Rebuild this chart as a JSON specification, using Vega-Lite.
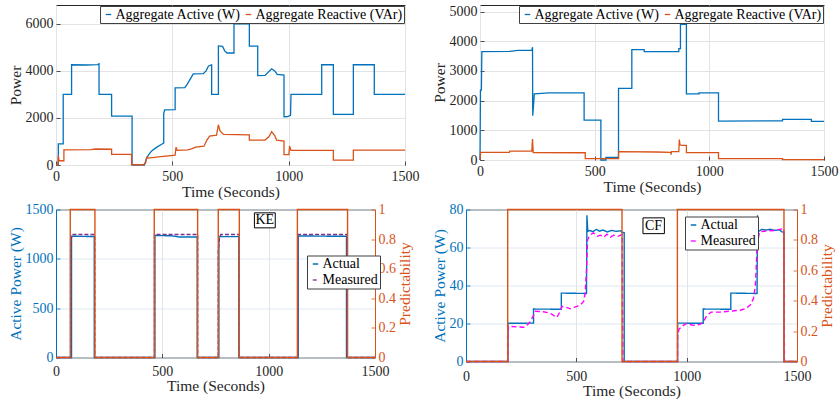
{
  "$schema": "https://vega.github.io/schema/vega-lite/v6.json",
  "background": "white",
  "padding": {"left": 7, "top": 4, "right": 0, "bottom": 0},
  "config": {
    "font": "Liberation Serif",
    "view": {"stroke": "#262626", "strokeWidth": 1},
    "style": {"guide-title": {"fontWeight": 400}},
    "axis": {
      "labelFont": "Liberation Serif", "labelFontSize": 14, "labelColor": "#262626",
      "titleFont": "Liberation Serif", "titleFontSize": 15.5, "titleFontWeight": 400, "titleColor": "#262626",
      "domain": false, "grid": true, "gridColor": "#E3E3E3", "gridWidth": 1,
      "tickColor": "#262626", "tickSize": -4, "tickWidth": 0.8,
      "labelFlush": false, "labelOverlap": false, "labelBound": false
    },
    "axisX": {"labelPadding": 8, "titlePadding": 1.5, "titleFontWeight": 400},
    "axisY": {"labelPadding": 7, "titlePadding": 2, "titleFontWeight": 400},
    "legend": {
      "labelFont": "Liberation Serif", "labelFontSize": 14, "labelColor": "black",
      "symbolType": "stroke", "symbolSize": 30, "symbolStrokeWidth": 1.3,
      "strokeColor": "#404040", "fillColor": "white", "padding": 1.5,
      "labelOffset": 0, "columnPadding": 0, "rowPadding": 2
    }
  },
  "datasets": {
    "p1": [
      {"t": 0, "v": 0, "s": "Aggregate Active (W)"}, {"t": 10, "v": 0, "s": "Aggregate Active (W)"}, {"t": 10, "v": 900, "s": "Aggregate Active (W)"}, {"t": 31, "v": 900, "s": "Aggregate Active (W)"}, {"t": 31, "v": 3000, "s": "Aggregate Active (W)"}, {"t": 67, "v": 3000, "s": "Aggregate Active (W)"}, {"t": 67, "v": 4260, "s": "Aggregate Active (W)"}, {"t": 130, "v": 4250, "s": "Aggregate Active (W)"}, {"t": 178, "v": 4270, "s": "Aggregate Active (W)"}, {"t": 185, "v": 4300, "s": "Aggregate Active (W)"}, {"t": 185, "v": 3000, "s": "Aggregate Active (W)"}, {"t": 239, "v": 3000, "s": "Aggregate Active (W)"}, {"t": 239, "v": 2080, "s": "Aggregate Active (W)"}, {"t": 327, "v": 2080, "s": "Aggregate Active (W)"}, {"t": 327, "v": 0, "s": "Aggregate Active (W)"}, {"t": 380, "v": 0, "s": "Aggregate Active (W)"}, {"t": 388, "v": 250, "s": "Aggregate Active (W)"}, {"t": 397, "v": 420, "s": "Aggregate Active (W)"}, {"t": 411, "v": 600, "s": "Aggregate Active (W)"}, {"t": 432, "v": 750, "s": "Aggregate Active (W)"}, {"t": 454, "v": 880, "s": "Aggregate Active (W)"}, {"t": 463, "v": 930, "s": "Aggregate Active (W)"}, {"t": 463, "v": 2200, "s": "Aggregate Active (W)"}, {"t": 467, "v": 2340, "s": "Aggregate Active (W)"}, {"t": 512, "v": 2350, "s": "Aggregate Active (W)"}, {"t": 512, "v": 3280, "s": "Aggregate Active (W)"}, {"t": 554, "v": 3290, "s": "Aggregate Active (W)"}, {"t": 565, "v": 3450, "s": "Aggregate Active (W)"}, {"t": 580, "v": 3700, "s": "Aggregate Active (W)"}, {"t": 590, "v": 3870, "s": "Aggregate Active (W)"}, {"t": 633, "v": 3880, "s": "Aggregate Active (W)"}, {"t": 645, "v": 4000, "s": "Aggregate Active (W)"}, {"t": 655, "v": 4200, "s": "Aggregate Active (W)"}, {"t": 667, "v": 4250, "s": "Aggregate Active (W)"}, {"t": 669, "v": 4250, "s": "Aggregate Active (W)"}, {"t": 669, "v": 3000, "s": "Aggregate Active (W)"}, {"t": 698, "v": 3000, "s": "Aggregate Active (W)"}, {"t": 698, "v": 5060, "s": "Aggregate Active (W)"}, {"t": 716, "v": 5040, "s": "Aggregate Active (W)"}, {"t": 725, "v": 4850, "s": "Aggregate Active (W)"}, {"t": 735, "v": 4760, "s": "Aggregate Active (W)"}, {"t": 765, "v": 4760, "s": "Aggregate Active (W)"}, {"t": 765, "v": 6000, "s": "Aggregate Active (W)"}, {"t": 831, "v": 6000, "s": "Aggregate Active (W)"}, {"t": 831, "v": 5050, "s": "Aggregate Active (W)"}, {"t": 867, "v": 5050, "s": "Aggregate Active (W)"}, {"t": 867, "v": 3800, "s": "Aggregate Active (W)"}, {"t": 898, "v": 3810, "s": "Aggregate Active (W)"}, {"t": 910, "v": 3920, "s": "Aggregate Active (W)"}, {"t": 927, "v": 4090, "s": "Aggregate Active (W)"}, {"t": 940, "v": 4000, "s": "Aggregate Active (W)"}, {"t": 951, "v": 3850, "s": "Aggregate Active (W)"}, {"t": 980, "v": 3820, "s": "Aggregate Active (W)"}, {"t": 980, "v": 2050, "s": "Aggregate Active (W)"}, {"t": 995, "v": 2060, "s": "Aggregate Active (W)"}, {"t": 1008, "v": 2110, "s": "Aggregate Active (W)"}, {"t": 1010, "v": 3000, "s": "Aggregate Active (W)"}, {"t": 1142, "v": 3000, "s": "Aggregate Active (W)"}, {"t": 1142, "v": 4260, "s": "Aggregate Active (W)"}, {"t": 1192, "v": 4260, "s": "Aggregate Active (W)"}, {"t": 1192, "v": 2150, "s": "Aggregate Active (W)"}, {"t": 1278, "v": 2150, "s": "Aggregate Active (W)"}, {"t": 1278, "v": 4260, "s": "Aggregate Active (W)"}, {"t": 1368, "v": 4260, "s": "Aggregate Active (W)"}, {"t": 1368, "v": 3000, "s": "Aggregate Active (W)"}, {"t": 1500, "v": 3000, "s": "Aggregate Active (W)"},
      {"t": 0, "v": 0, "s": "Aggregate Reactive (VAr)"}, {"t": 8, "v": 0, "s": "Aggregate Reactive (VAr)"}, {"t": 10, "v": 400, "s": "Aggregate Reactive (VAr)"}, {"t": 13, "v": 180, "s": "Aggregate Reactive (VAr)"}, {"t": 34, "v": 180, "s": "Aggregate Reactive (VAr)"}, {"t": 34, "v": 640, "s": "Aggregate Reactive (VAr)"}, {"t": 150, "v": 650, "s": "Aggregate Reactive (VAr)"}, {"t": 170, "v": 680, "s": "Aggregate Reactive (VAr)"}, {"t": 239, "v": 670, "s": "Aggregate Reactive (VAr)"}, {"t": 239, "v": 450, "s": "Aggregate Reactive (VAr)"}, {"t": 325, "v": 450, "s": "Aggregate Reactive (VAr)"}, {"t": 325, "v": 10, "s": "Aggregate Reactive (VAr)"}, {"t": 375, "v": 10, "s": "Aggregate Reactive (VAr)"}, {"t": 385, "v": 80, "s": "Aggregate Reactive (VAr)"}, {"t": 390, "v": 330, "s": "Aggregate Reactive (VAr)"}, {"t": 397, "v": 290, "s": "Aggregate Reactive (VAr)"}, {"t": 450, "v": 360, "s": "Aggregate Reactive (VAr)"}, {"t": 512, "v": 420, "s": "Aggregate Reactive (VAr)"}, {"t": 516, "v": 760, "s": "Aggregate Reactive (VAr)"}, {"t": 521, "v": 620, "s": "Aggregate Reactive (VAr)"}, {"t": 567, "v": 640, "s": "Aggregate Reactive (VAr)"}, {"t": 585, "v": 700, "s": "Aggregate Reactive (VAr)"}, {"t": 600, "v": 760, "s": "Aggregate Reactive (VAr)"}, {"t": 636, "v": 800, "s": "Aggregate Reactive (VAr)"}, {"t": 648, "v": 1050, "s": "Aggregate Reactive (VAr)"}, {"t": 660, "v": 1230, "s": "Aggregate Reactive (VAr)"}, {"t": 690, "v": 1270, "s": "Aggregate Reactive (VAr)"}, {"t": 698, "v": 1710, "s": "Aggregate Reactive (VAr)"}, {"t": 705, "v": 1450, "s": "Aggregate Reactive (VAr)"}, {"t": 720, "v": 1300, "s": "Aggregate Reactive (VAr)"}, {"t": 831, "v": 1280, "s": "Aggregate Reactive (VAr)"}, {"t": 831, "v": 1060, "s": "Aggregate Reactive (VAr)"}, {"t": 898, "v": 1060, "s": "Aggregate Reactive (VAr)"}, {"t": 915, "v": 1200, "s": "Aggregate Reactive (VAr)"}, {"t": 927, "v": 1420, "s": "Aggregate Reactive (VAr)"}, {"t": 940, "v": 1250, "s": "Aggregate Reactive (VAr)"}, {"t": 948, "v": 1060, "s": "Aggregate Reactive (VAr)"}, {"t": 980, "v": 1020, "s": "Aggregate Reactive (VAr)"}, {"t": 980, "v": 440, "s": "Aggregate Reactive (VAr)"}, {"t": 1001, "v": 440, "s": "Aggregate Reactive (VAr)"}, {"t": 1004, "v": 800, "s": "Aggregate Reactive (VAr)"}, {"t": 1010, "v": 620, "s": "Aggregate Reactive (VAr)"}, {"t": 1192, "v": 620, "s": "Aggregate Reactive (VAr)"}, {"t": 1192, "v": 210, "s": "Aggregate Reactive (VAr)"}, {"t": 1278, "v": 210, "s": "Aggregate Reactive (VAr)"}, {"t": 1278, "v": 630, "s": "Aggregate Reactive (VAr)"}, {"t": 1500, "v": 630, "s": "Aggregate Reactive (VAr)"}
    ],
    "p2": [
      {"t": 0, "v": 0, "s": "Aggregate Active (W)"}, {"t": 2, "v": 2350, "s": "Aggregate Active (W)"}, {"t": 6, "v": 2350, "s": "Aggregate Active (W)"}, {"t": 8, "v": 3650, "s": "Aggregate Active (W)"}, {"t": 130, "v": 3660, "s": "Aggregate Active (W)"}, {"t": 165, "v": 3690, "s": "Aggregate Active (W)"}, {"t": 226, "v": 3700, "s": "Aggregate Active (W)"}, {"t": 229, "v": 3800, "s": "Aggregate Active (W)"}, {"t": 230, "v": 1490, "s": "Aggregate Active (W)"}, {"t": 237, "v": 2230, "s": "Aggregate Active (W)"}, {"t": 300, "v": 2260, "s": "Aggregate Active (W)"}, {"t": 454, "v": 2260, "s": "Aggregate Active (W)"}, {"t": 454, "v": 1340, "s": "Aggregate Active (W)"}, {"t": 527, "v": 1340, "s": "Aggregate Active (W)"}, {"t": 527, "v": 0, "s": "Aggregate Active (W)"}, {"t": 549, "v": 0, "s": "Aggregate Active (W)"}, {"t": 549, "v": 90, "s": "Aggregate Active (W)"}, {"t": 604, "v": 90, "s": "Aggregate Active (W)"}, {"t": 604, "v": 2410, "s": "Aggregate Active (W)"}, {"t": 662, "v": 2410, "s": "Aggregate Active (W)"}, {"t": 662, "v": 3720, "s": "Aggregate Active (W)"}, {"t": 716, "v": 3720, "s": "Aggregate Active (W)"}, {"t": 716, "v": 3650, "s": "Aggregate Active (W)"}, {"t": 867, "v": 3650, "s": "Aggregate Active (W)"}, {"t": 867, "v": 3750, "s": "Aggregate Active (W)"}, {"t": 874, "v": 3750, "s": "Aggregate Active (W)"}, {"t": 874, "v": 4570, "s": "Aggregate Active (W)"}, {"t": 900, "v": 4570, "s": "Aggregate Active (W)"}, {"t": 900, "v": 2230, "s": "Aggregate Active (W)"}, {"t": 955, "v": 2230, "s": "Aggregate Active (W)"}, {"t": 955, "v": 2260, "s": "Aggregate Active (W)"}, {"t": 1040, "v": 2260, "s": "Aggregate Active (W)"}, {"t": 1040, "v": 1310, "s": "Aggregate Active (W)"}, {"t": 1319, "v": 1320, "s": "Aggregate Active (W)"}, {"t": 1319, "v": 1370, "s": "Aggregate Active (W)"}, {"t": 1445, "v": 1370, "s": "Aggregate Active (W)"}, {"t": 1445, "v": 1300, "s": "Aggregate Active (W)"}, {"t": 1500, "v": 1300, "s": "Aggregate Active (W)"},
      {"t": 0, "v": 0, "s": "Aggregate Reactive (VAr)"}, {"t": 3, "v": 260, "s": "Aggregate Reactive (VAr)"}, {"t": 128, "v": 260, "s": "Aggregate Reactive (VAr)"}, {"t": 130, "v": 300, "s": "Aggregate Reactive (VAr)"}, {"t": 226, "v": 300, "s": "Aggregate Reactive (VAr)"}, {"t": 229, "v": 706, "s": "Aggregate Reactive (VAr)"}, {"t": 232, "v": 250, "s": "Aggregate Reactive (VAr)"}, {"t": 459, "v": 245, "s": "Aggregate Reactive (VAr)"}, {"t": 459, "v": 45, "s": "Aggregate Reactive (VAr)"}, {"t": 604, "v": 45, "s": "Aggregate Reactive (VAr)"}, {"t": 604, "v": 280, "s": "Aggregate Reactive (VAr)"}, {"t": 767, "v": 270, "s": "Aggregate Reactive (VAr)"}, {"t": 832, "v": 255, "s": "Aggregate Reactive (VAr)"}, {"t": 833, "v": 180, "s": "Aggregate Reactive (VAr)"}, {"t": 835, "v": 280, "s": "Aggregate Reactive (VAr)"}, {"t": 867, "v": 280, "s": "Aggregate Reactive (VAr)"}, {"t": 869, "v": 690, "s": "Aggregate Reactive (VAr)"}, {"t": 872, "v": 510, "s": "Aggregate Reactive (VAr)"}, {"t": 880, "v": 490, "s": "Aggregate Reactive (VAr)"}, {"t": 900, "v": 490, "s": "Aggregate Reactive (VAr)"}, {"t": 900, "v": 246, "s": "Aggregate Reactive (VAr)"}, {"t": 1040, "v": 246, "s": "Aggregate Reactive (VAr)"}, {"t": 1040, "v": 45, "s": "Aggregate Reactive (VAr)"}, {"t": 1319, "v": 45, "s": "Aggregate Reactive (VAr)"}, {"t": 1319, "v": 12, "s": "Aggregate Reactive (VAr)"}, {"t": 1500, "v": 12, "s": "Aggregate Reactive (VAr)"}
    ],
    "p3": [
      {"t": 0, "v": 0, "s": "Actual"}, {"t": 73, "v": 0, "s": "Actual"}, {"t": 73, "v": 1229, "s": "Actual"}, {"t": 180, "v": 1226, "s": "Actual"}, {"t": 180, "v": 0, "s": "Actual"}, {"t": 465, "v": 0, "s": "Actual"}, {"t": 465, "v": 1236, "s": "Actual"}, {"t": 540, "v": 1234, "s": "Actual"}, {"t": 580, "v": 1222, "s": "Actual"}, {"t": 664, "v": 1222, "s": "Actual"}, {"t": 664, "v": 0, "s": "Actual"}, {"t": 766, "v": 0, "s": "Actual"}, {"t": 766, "v": 1225, "s": "Actual"}, {"t": 860, "v": 1225, "s": "Actual"}, {"t": 860, "v": 0, "s": "Actual"}, {"t": 1139, "v": 0, "s": "Actual"}, {"t": 1139, "v": 1232, "s": "Actual"}, {"t": 1366, "v": 1228, "s": "Actual"}, {"t": 1366, "v": 0, "s": "Actual"}, {"t": 1500, "v": 0, "s": "Actual"},
      {"t": 0, "v": 0, "s": "Measured"}, {"t": 69, "v": 0, "s": "Measured"}, {"t": 69, "v": 1090, "s": "Measured"}, {"t": 72, "v": 1210, "s": "Measured"}, {"t": 76, "v": 1246, "s": "Measured"}, {"t": 182, "v": 1246, "s": "Measured"}, {"t": 182, "v": 0, "s": "Measured"}, {"t": 463, "v": 0, "s": "Measured"}, {"t": 463, "v": 1246, "s": "Measured"}, {"t": 666, "v": 1246, "s": "Measured"}, {"t": 666, "v": 0, "s": "Measured"}, {"t": 763, "v": 0, "s": "Measured"}, {"t": 763, "v": 1080, "s": "Measured"}, {"t": 768, "v": 1200, "s": "Measured"}, {"t": 775, "v": 1246, "s": "Measured"}, {"t": 862, "v": 1246, "s": "Measured"}, {"t": 862, "v": 0, "s": "Measured"}, {"t": 1137, "v": 0, "s": "Measured"}, {"t": 1137, "v": 1246, "s": "Measured"}, {"t": 1369, "v": 1246, "s": "Measured"}, {"t": 1369, "v": 0, "s": "Measured"}, {"t": 1500, "v": 0, "s": "Measured"}
    ],
    "p3pred": [
      {"t": 0, "p": 0}, {"t": 67, "p": 0}, {"t": 67, "p": 1}, {"t": 183, "p": 1}, {"t": 183, "p": 0}, {"t": 462, "p": 0}, {"t": 462, "p": 1}, {"t": 666, "p": 1}, {"t": 666, "p": 0}, {"t": 763, "p": 0}, {"t": 763, "p": 1}, {"t": 862, "p": 1}, {"t": 862, "p": 0}, {"t": 1135, "p": 0}, {"t": 1135, "p": 1}, {"t": 1371, "p": 1}, {"t": 1371, "p": 0}, {"t": 1500, "p": 0}
    ],
    "p4": [
      {"t": 0, "v": 0, "s": "Actual"}, {"t": 190, "v": 0, "s": "Actual"}, {"t": 190, "v": 20.1, "s": "Actual"}, {"t": 306, "v": 20.2, "s": "Actual"}, {"t": 306, "v": 27.6, "s": "Actual"}, {"t": 432, "v": 27.5, "s": "Actual"}, {"t": 432, "v": 36, "s": "Actual"}, {"t": 546, "v": 35.8, "s": "Actual"}, {"t": 548, "v": 77, "s": "Actual"}, {"t": 552, "v": 68.5, "s": "Actual"}, {"t": 560, "v": 69, "s": "Actual"}, {"t": 575, "v": 68.3, "s": "Actual"}, {"t": 590, "v": 69.5, "s": "Actual"}, {"t": 605, "v": 68.6, "s": "Actual"}, {"t": 620, "v": 69.2, "s": "Actual"}, {"t": 640, "v": 68.2, "s": "Actual"}, {"t": 660, "v": 69, "s": "Actual"}, {"t": 680, "v": 68.5, "s": "Actual"}, {"t": 700, "v": 68.8, "s": "Actual"}, {"t": 707, "v": 68, "s": "Actual"}, {"t": 717, "v": 67.8, "s": "Actual"}, {"t": 717, "v": 0, "s": "Actual"}, {"t": 959, "v": 0, "s": "Actual"}, {"t": 959, "v": 20.2, "s": "Actual"}, {"t": 1075, "v": 20.1, "s": "Actual"}, {"t": 1075, "v": 27.6, "s": "Actual"}, {"t": 1200, "v": 27.5, "s": "Actual"}, {"t": 1200, "v": 36, "s": "Actual"}, {"t": 1319, "v": 35.8, "s": "Actual"}, {"t": 1321, "v": 77, "s": "Actual"}, {"t": 1325, "v": 68.5, "s": "Actual"}, {"t": 1340, "v": 69.5, "s": "Actual"}, {"t": 1360, "v": 69.2, "s": "Actual"}, {"t": 1380, "v": 69.6, "s": "Actual"}, {"t": 1400, "v": 69, "s": "Actual"}, {"t": 1420, "v": 69.3, "s": "Actual"}, {"t": 1432, "v": 68.2, "s": "Actual"}, {"t": 1441, "v": 68, "s": "Actual"}, {"t": 1441, "v": 0, "s": "Actual"}, {"t": 1500, "v": 0, "s": "Actual"},
      {"t": 0, "v": 0, "s": "Measured"}, {"t": 190, "v": 0, "s": "Measured"}, {"t": 190, "v": 15, "s": "Measured"}, {"t": 193, "v": 18.5, "s": "Measured"}, {"t": 230, "v": 18.2, "s": "Measured"}, {"t": 261, "v": 18, "s": "Measured"}, {"t": 280, "v": 19.5, "s": "Measured"}, {"t": 291, "v": 21, "s": "Measured"}, {"t": 305, "v": 24, "s": "Measured"}, {"t": 314, "v": 26.4, "s": "Measured"}, {"t": 350, "v": 26.2, "s": "Measured"}, {"t": 380, "v": 25.5, "s": "Measured"}, {"t": 400, "v": 24, "s": "Measured"}, {"t": 412, "v": 23.2, "s": "Measured"}, {"t": 425, "v": 26, "s": "Measured"}, {"t": 435, "v": 29, "s": "Measured"}, {"t": 455, "v": 28.5, "s": "Measured"}, {"t": 473, "v": 27.7, "s": "Measured"}, {"t": 490, "v": 28.5, "s": "Measured"}, {"t": 503, "v": 29, "s": "Measured"}, {"t": 520, "v": 30, "s": "Measured"}, {"t": 533, "v": 31.6, "s": "Measured"}, {"t": 540, "v": 36, "s": "Measured"}, {"t": 546, "v": 48, "s": "Measured"}, {"t": 551, "v": 64, "s": "Measured"}, {"t": 560, "v": 66.5, "s": "Measured"}, {"t": 578, "v": 67.7, "s": "Measured"}, {"t": 595, "v": 66, "s": "Measured"}, {"t": 609, "v": 66.5, "s": "Measured"}, {"t": 625, "v": 65.5, "s": "Measured"}, {"t": 639, "v": 67, "s": "Measured"}, {"t": 655, "v": 65.5, "s": "Measured"}, {"t": 669, "v": 66.5, "s": "Measured"}, {"t": 690, "v": 66, "s": "Measured"}, {"t": 708, "v": 66.8, "s": "Measured"}, {"t": 711, "v": 0, "s": "Measured"}, {"t": 959, "v": 0, "s": "Measured"}, {"t": 959, "v": 13, "s": "Measured"}, {"t": 965, "v": 17, "s": "Measured"}, {"t": 985, "v": 19, "s": "Measured"}, {"t": 1000, "v": 20, "s": "Measured"}, {"t": 1030, "v": 19, "s": "Measured"}, {"t": 1060, "v": 19.5, "s": "Measured"}, {"t": 1077, "v": 21, "s": "Measured"}, {"t": 1090, "v": 24, "s": "Measured"}, {"t": 1110, "v": 26, "s": "Measured"}, {"t": 1150, "v": 26, "s": "Measured"}, {"t": 1200, "v": 26.5, "s": "Measured"}, {"t": 1243, "v": 27, "s": "Measured"}, {"t": 1270, "v": 28, "s": "Measured"}, {"t": 1290, "v": 30, "s": "Measured"}, {"t": 1303, "v": 33.3, "s": "Measured"}, {"t": 1311, "v": 39.5, "s": "Measured"}, {"t": 1315, "v": 49, "s": "Measured"}, {"t": 1319, "v": 61, "s": "Measured"}, {"t": 1330, "v": 68.2, "s": "Measured"}, {"t": 1360, "v": 68.7, "s": "Measured"}, {"t": 1400, "v": 69, "s": "Measured"}, {"t": 1440, "v": 70, "s": "Measured"}, {"t": 1443, "v": 0, "s": "Measured"}, {"t": 1500, "v": 0, "s": "Measured"}
    ],
    "p4pred": [
      {"t": 0, "p": 0}, {"t": 189, "p": 0}, {"t": 189, "p": 1}, {"t": 707, "p": 1}, {"t": 707, "p": 0}, {"t": 958, "p": 0}, {"t": 958, "p": 1}, {"t": 1441, "p": 1}, {"t": 1441, "p": 0}, {"t": 1500, "p": 0}
    ]
  },
  "resolve": {"scale": {"color": "independent", "strokeDash": "independent"}, "legend": {"color": "independent", "strokeDash": "independent"}},
  "vconcat": [
    {
      "spacing": 11,
      "resolve": {"scale": {"color": "independent", "strokeDash": "independent"}, "legend": {"color": "independent", "strokeDash": "independent"}},
      "hconcat": [
        {
          "width": 349, "height": 160,
          "data": {"name": "p1"},
          "mark": {"type": "line", "strokeWidth": 1.3},
          "encoding": {
            "x": {"field": "t", "type": "quantitative", "scale": {"domain": [0, 1500], "nice": false}, "axis": {"values": [0, 500, 1000, 1500], "format": "d", "title": "Time (Seconds)"}},
            "y": {"field": "v", "type": "quantitative", "scale": {"domain": [0, 6800], "nice": false}, "axis": {"values": [0, 2000, 4000, 6000], "format": "d", "title": "Power"}},
            "color": {"field": "s", "type": "nominal", "scale": {"domain": ["Aggregate Active (W)", "Aggregate Reactive (VAr)"], "range": ["#0072BD", "#D95319"]}, "legend": {"title": null, "orient": "top-right", "offset": 1, "direction": "horizontal", "columns": 2}},
            "order": {"value": null}
          }
        },
        {
          "width": 344, "height": 155,
          "data": {"name": "p2"},
          "mark": {"type": "line", "strokeWidth": 1.3},
          "encoding": {
            "x": {"field": "t", "type": "quantitative", "scale": {"domain": [0, 1500], "nice": false}, "axis": {"values": [0, 500, 1000, 1500], "format": "d", "title": "Time (Seconds)"}},
            "y": {"field": "v", "type": "quantitative", "scale": {"domain": [0, 5220], "nice": false}, "axis": {"values": [0, 1000, 2000, 3000, 4000, 5000], "format": "d", "title": "Power"}},
            "color": {"field": "s", "type": "nominal", "scale": {"domain": ["Aggregate Active (W)", "Aggregate Reactive (VAr)"], "range": ["#0072BD", "#D95319"]}, "legend": {"title": null, "orient": "top-right", "offset": 1, "direction": "horizontal", "columns": 2}},
            "order": {"value": null}
          }
        }
      ]
    },
    {
      "spacing": 17,
      "resolve": {"scale": {"color": "independent", "strokeDash": "independent"}, "legend": {"color": "independent", "strokeDash": "independent"}},
      "hconcat": [
        {
          "width": 319, "height": 148,
          "layer": [
            {
              "layer": [
                {
                  "data": {"name": "p3"},
                  "mark": {"type": "line", "strokeWidth": 1.4},
                  "encoding": {
                    "x": {"field": "t", "type": "quantitative", "scale": {"domain": [0, 1500], "nice": false}, "axis": {"values": [0, 500, 1000, 1500], "format": "d", "title": "Time (Seconds)", "labelPadding": 10.5, "titlePadding": 0}},
                    "y": {"field": "v", "type": "quantitative", "scale": {"domain": [0, 1500], "nice": false}, "axis": {"values": [0, 500, 1000, 1500], "format": "d", "title": "Active Power (W)", "labelColor": "#0072BD", "titleColor": "#0072BD", "tickColor": "#0072BD", "domain": true, "domainColor": "#0072BD", "gridColor": "#DDE8F2"}},
                    "color": {"field": "s", "type": "nominal", "scale": {"domain": ["Actual", "Measured"], "range": ["#0072BD", "#7E2F8E"]}, "legend": {"title": null, "orient": "none", "legendX": 251, "legendY": 46}},
                    "strokeDash": {"field": "s", "type": "nominal", "scale": {"domain": ["Actual", "Measured"], "range": [[1, 0], [4, 2]]}, "legend": {"title": null, "orient": "none", "legendX": 251, "legendY": 46}},
                    "order": {"value": null}
                  }
                },
                {
                  "data": {"values": [{}]},
                  "mark": {"type": "rect", "fill": "white", "stroke": "black", "strokeWidth": 1},
                  "encoding": {
                    "x": {"datum": 933, "type": "quantitative", "axis": {"values": [0, 500, 1000, 1500], "format": "d", "title": "Time (Seconds)", "labelPadding": 10.5, "titlePadding": 0}},
                    "x2": {"datum": 1031},
                    "y": {"datum": 1466, "type": "quantitative", "axis": {"values": [0, 500, 1000, 1500], "format": "d", "title": "Active Power (W)", "labelColor": "#0072BD", "titleColor": "#0072BD", "tickColor": "#0072BD", "domain": true, "domainColor": "#0072BD", "gridColor": "#DDE8F2"}},
                    "y2": {"datum": 1314}
                  }
                },
                {
                  "data": {"values": [{}]},
                  "mark": {"type": "text", "fontSize": 14, "font": "Liberation Serif", "color": "black"},
                  "encoding": {
                    "x": {"datum": 982, "type": "quantitative", "axis": {"values": [0, 500, 1000, 1500], "format": "d", "title": "Time (Seconds)", "labelPadding": 10.5, "titlePadding": 0}},
                    "y": {"datum": 1390, "type": "quantitative", "axis": {"values": [0, 500, 1000, 1500], "format": "d", "title": "Active Power (W)", "labelColor": "#0072BD", "titleColor": "#0072BD", "tickColor": "#0072BD", "domain": true, "domainColor": "#0072BD", "gridColor": "#DDE8F2"}},
                    "text": {"value": "KE"}
                  }
                }
              ]
            },
            {
              "data": {"name": "p3pred"},
              "mark": {"type": "line", "color": "#D95319", "strokeWidth": 1.4},
              "encoding": {
                "x": {"field": "t", "type": "quantitative", "axis": {"values": [0, 500, 1000, 1500], "format": "d", "title": "Time (Seconds)", "labelPadding": 10.5, "titlePadding": 0}},
                "y": {"field": "p", "type": "quantitative", "scale": {"domain": [0, 1], "nice": false}, "axis": {"orient": "right", "values": [0, 0.2, 0.4, 0.6, 0.8, 1], "format": ".1~f", "title": "Predictability", "titleAngle": 270, "titleBaseline": "top", "titlePadding": 2, "grid": false, "labelColor": "#D95319", "titleColor": "#D95319", "tickColor": "#D95319", "domain": true, "domainColor": "#D95319"}},
                "order": {"value": null}
              }
            }
          ],
          "resolve": {"scale": {"y": "independent"}}
        },
        {
          "width": 331, "height": 152,
          "layer": [
            {
              "layer": [
                {
                  "data": {"name": "p4"},
                  "mark": {"type": "line", "strokeWidth": 1.4},
                  "encoding": {
                    "x": {"field": "t", "type": "quantitative", "scale": {"domain": [0, 1500], "nice": false}, "axis": {"values": [0, 500, 1000, 1500], "format": "d", "title": "Time (Seconds)", "labelPadding": 11.5, "titlePadding": 0}},
                    "y": {"field": "v", "type": "quantitative", "scale": {"domain": [0, 80], "nice": false}, "axis": {"values": [0, 20, 40, 60, 80], "title": "Active Power (W)", "labelColor": "#0072BD", "titleColor": "#0072BD", "tickColor": "#0072BD", "domain": true, "domainColor": "#0072BD", "gridColor": "#DDE8F2"}},
                    "color": {"field": "s", "type": "nominal", "scale": {"domain": ["Actual", "Measured"], "range": ["#0072BD", "#FF00FF"]}, "legend": {"title": null, "orient": "none", "legendX": 219, "legendY": 7}},
                    "strokeDash": {"field": "s", "type": "nominal", "scale": {"domain": ["Actual", "Measured"], "range": [[1, 0], [5, 3]]}, "legend": {"title": null, "orient": "none", "legendX": 219, "legendY": 7}},
                    "order": {"value": null}
                  }
                },
                {
                  "data": {"values": [{}]},
                  "mark": {"type": "rect", "fill": "white", "stroke": "black", "strokeWidth": 1},
                  "encoding": {
                    "x": {"datum": 802, "type": "quantitative", "axis": {"values": [0, 500, 1000, 1500], "format": "d", "title": "Time (Seconds)", "labelPadding": 11.5, "titlePadding": 0}},
                    "x2": {"datum": 899},
                    "y": {"datum": 75.6, "type": "quantitative", "axis": {"values": [0, 20, 40, 60, 80], "title": "Active Power (W)", "labelColor": "#0072BD", "titleColor": "#0072BD", "tickColor": "#0072BD", "domain": true, "domainColor": "#0072BD", "gridColor": "#DDE8F2"}},
                    "y2": {"datum": 67.3}
                  }
                },
                {
                  "data": {"values": [{}]},
                  "mark": {"type": "text", "fontSize": 14, "font": "Liberation Serif", "color": "black"},
                  "encoding": {
                    "x": {"datum": 850, "type": "quantitative", "axis": {"values": [0, 500, 1000, 1500], "format": "d", "title": "Time (Seconds)", "labelPadding": 11.5, "titlePadding": 0}},
                    "y": {"datum": 71.4, "type": "quantitative", "axis": {"values": [0, 20, 40, 60, 80], "title": "Active Power (W)", "labelColor": "#0072BD", "titleColor": "#0072BD", "tickColor": "#0072BD", "domain": true, "domainColor": "#0072BD", "gridColor": "#DDE8F2"}},
                    "text": {"value": "CF"}
                  }
                }
              ]
            },
            {
              "data": {"name": "p4pred"},
              "mark": {"type": "line", "color": "#D95319", "strokeWidth": 1.4},
              "encoding": {
                "x": {"field": "t", "type": "quantitative", "axis": {"values": [0, 500, 1000, 1500], "format": "d", "title": "Time (Seconds)", "labelPadding": 11.5, "titlePadding": 0}},
                "y": {"field": "p", "type": "quantitative", "scale": {"domain": [0, 1], "nice": false}, "axis": {"orient": "right", "values": [0, 0.2, 0.4, 0.6, 0.8, 1], "format": ".1~f", "title": "Predictability", "titleAngle": 270, "titleBaseline": "top", "titlePadding": 2, "grid": false, "labelColor": "#D95319", "titleColor": "#D95319", "tickColor": "#D95319", "domain": true, "domainColor": "#D95319"}},
                "order": {"value": null}
              }
            }
          ],
          "resolve": {"scale": {"y": "independent"}}
        }
      ]
    }
  ],
  "spacing": 0.5
}
